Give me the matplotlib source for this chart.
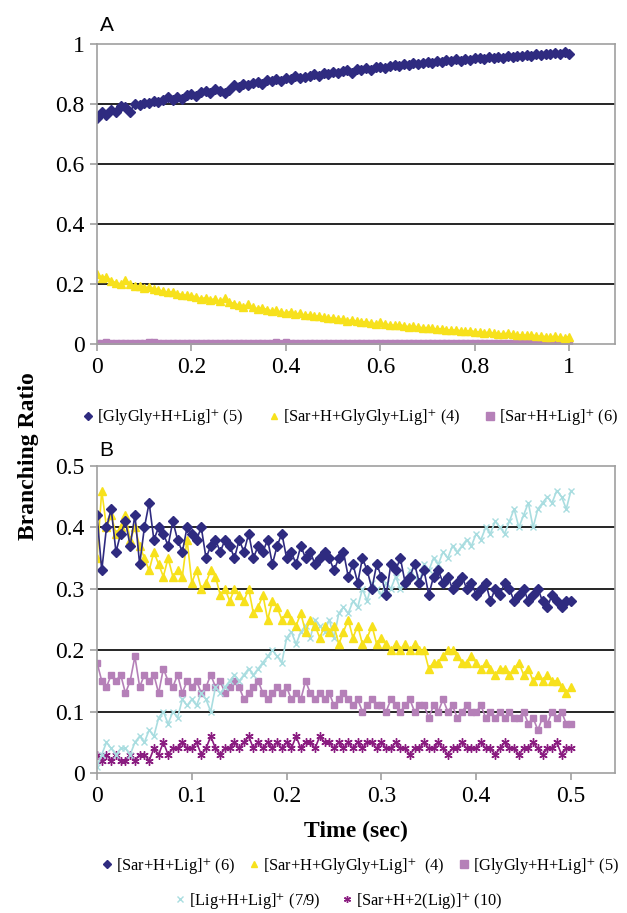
import numpy as np
from matplotlib import pyplot as plt
from matplotlib.lines import Line2D

plt.rcParams['font.family'] = ['Liberation Serif', 'DejaVu Serif']
plt.rcParams['mathtext.fontset'] = 'stix'

# ---- panel A data (time step 0.01 s) ----
time_a = np.arange(101) * 0.01
a_glygly = [
    0.755, 0.775, 0.765, 0.780, 0.772, 0.795, 0.790, 0.775, 0.800, 0.798,
    0.805, 0.803, 0.810, 0.806, 0.815, 0.822, 0.812, 0.825, 0.818, 0.830,
    0.835, 0.828, 0.840, 0.845, 0.836, 0.850, 0.842, 0.838, 0.848, 0.862,
    0.858, 0.866, 0.862, 0.870, 0.875, 0.868, 0.880, 0.876, 0.882, 0.878,
    0.888, 0.885, 0.892, 0.887, 0.890, 0.895, 0.900, 0.893, 0.905, 0.900,
    0.908, 0.902, 0.910, 0.913, 0.905, 0.917, 0.912, 0.920, 0.915, 0.922,
    0.925, 0.920, 0.928, 0.931, 0.926, 0.934, 0.930, 0.936, 0.933, 0.938,
    0.941, 0.937, 0.943, 0.940, 0.946, 0.944, 0.949, 0.945, 0.950, 0.948,
    0.952, 0.955, 0.951, 0.956, 0.954, 0.958, 0.955, 0.960, 0.957, 0.961,
    0.959, 0.963, 0.960, 0.966, 0.964, 0.968, 0.966, 0.970, 0.968, 0.972,
    0.968]
a_sar_glygly = [
    0.235, 0.220, 0.225, 0.210, 0.205, 0.200, 0.215, 0.200, 0.195, 0.192,
    0.188, 0.190, 0.185, 0.180, 0.176, 0.172, 0.175, 0.168, 0.165, 0.162,
    0.160, 0.158, 0.150, 0.155, 0.148, 0.150, 0.142, 0.152, 0.140, 0.135,
    0.130, 0.125, 0.132, 0.122, 0.118, 0.120, 0.115, 0.110, 0.112, 0.106,
    0.104, 0.108, 0.100, 0.102, 0.096, 0.098, 0.092, 0.094, 0.090, 0.086,
    0.088, 0.084, 0.082, 0.078, 0.080, 0.076, 0.073, 0.075, 0.070, 0.068,
    0.072, 0.066, 0.064, 0.062, 0.065, 0.060, 0.058, 0.060, 0.056, 0.054,
    0.055, 0.052, 0.050, 0.051, 0.048, 0.046, 0.047, 0.044, 0.043, 0.045,
    0.041, 0.040, 0.038, 0.039, 0.036, 0.035, 0.034, 0.036, 0.032, 0.031,
    0.030, 0.029, 0.031, 0.027, 0.026, 0.025, 0.024, 0.026, 0.022, 0.021,
    0.025]
a_sar = [
    0.004, 0.002, 0.006, 0.003, 0.005, 0.002, 0.004, 0.003, 0.005, 0.002,
    0.004, 0.006, 0.008, 0.003, 0.004, 0.002, 0.005, 0.003, 0.004, 0.002,
    0.003, 0.005, 0.002, 0.004, 0.003, 0.005, 0.002, 0.004, 0.003, 0.002,
    0.004, 0.003, 0.005, 0.002, 0.004, 0.003, 0.002, 0.004, 0.006, 0.003,
    0.007, 0.003, 0.004, 0.002, 0.005, 0.003, 0.004, 0.002, 0.003, 0.005,
    0.002, 0.004, 0.003, 0.002, 0.004, 0.003, 0.005, 0.002, 0.004, 0.003,
    0.002, 0.004, 0.003, 0.005, 0.002, 0.003, 0.004, 0.002, 0.003, 0.004,
    0.002, 0.003, 0.005, 0.002, 0.003, 0.004, 0.002, 0.003, 0.002, 0.004,
    0.003, 0.002, 0.003, 0.004, 0.002, 0.003, 0.002, 0.004, 0.003, 0.002,
    0.003, 0.002, 0.004, 0.003, 0.002, 0.003, 0.002, 0.003, 0.002, 0.003,
    0.002]

# ---- panel B data (time step 0.005 s) ----
time_b = np.arange(101) * 0.005
b_sar = [
    0.42, 0.33, 0.40, 0.43, 0.36, 0.39, 0.41, 0.37, 0.42, 0.34,
    0.40, 0.44, 0.38, 0.40, 0.39, 0.37, 0.41, 0.38, 0.36, 0.40,
    0.39, 0.38, 0.40, 0.35, 0.37, 0.38, 0.36, 0.38, 0.37, 0.35,
    0.38, 0.36, 0.39, 0.35, 0.37, 0.36, 0.38, 0.34, 0.37, 0.39,
    0.35, 0.36, 0.34, 0.37, 0.35, 0.36, 0.34, 0.35, 0.36, 0.35,
    0.33, 0.35, 0.36, 0.32, 0.34, 0.31, 0.35, 0.33, 0.30, 0.34,
    0.32, 0.29, 0.34, 0.33, 0.35, 0.31, 0.32, 0.34, 0.31, 0.33,
    0.29, 0.32, 0.33, 0.31, 0.32, 0.30, 0.31, 0.32, 0.30, 0.31,
    0.29, 0.30, 0.31, 0.28, 0.30, 0.29, 0.31, 0.30, 0.28, 0.29,
    0.30, 0.28, 0.29, 0.30, 0.28, 0.27, 0.29, 0.28, 0.27, 0.28,
    0.28]
b_sar_glygly = [
    0.35, 0.46, 0.40, 0.42, 0.39, 0.40, 0.42, 0.38, 0.40, 0.37,
    0.35, 0.33, 0.36, 0.34, 0.32, 0.35, 0.32, 0.33, 0.32, 0.38,
    0.31, 0.33, 0.30, 0.31, 0.33, 0.32, 0.29, 0.30, 0.28, 0.30,
    0.29, 0.28, 0.30, 0.26, 0.27, 0.29, 0.25, 0.28, 0.27, 0.25,
    0.26, 0.25, 0.24, 0.26, 0.23, 0.25, 0.24, 0.22, 0.24, 0.23,
    0.24, 0.21, 0.23, 0.25, 0.22, 0.24, 0.21, 0.22, 0.24, 0.21,
    0.22, 0.21, 0.20, 0.21, 0.20, 0.21, 0.20, 0.21, 0.20, 0.20,
    0.17, 0.18, 0.18, 0.19, 0.20, 0.20, 0.19, 0.18, 0.18, 0.19,
    0.18, 0.17, 0.18, 0.17, 0.16, 0.17, 0.17, 0.16, 0.17, 0.18,
    0.16, 0.17, 0.15, 0.16, 0.15, 0.16, 0.15, 0.15, 0.14, 0.13,
    0.14]
b_glygly = [
    0.18, 0.15, 0.14, 0.16, 0.15, 0.16, 0.13, 0.15, 0.19, 0.14,
    0.16, 0.15, 0.16, 0.13, 0.17, 0.15, 0.14, 0.16, 0.13, 0.15,
    0.14, 0.15, 0.13, 0.14, 0.16, 0.14, 0.15, 0.13, 0.14, 0.15,
    0.14, 0.12, 0.13, 0.14, 0.15, 0.13, 0.12, 0.13, 0.14, 0.13,
    0.14, 0.12, 0.13, 0.12, 0.15, 0.13, 0.12, 0.13, 0.12, 0.13,
    0.11, 0.12, 0.13, 0.12, 0.11, 0.12, 0.10, 0.11, 0.12, 0.11,
    0.11, 0.10, 0.12, 0.11, 0.10, 0.11, 0.12, 0.10, 0.11, 0.11,
    0.09, 0.11, 0.10, 0.12, 0.10, 0.11, 0.09, 0.10, 0.11, 0.10,
    0.10, 0.11, 0.09, 0.10, 0.09, 0.10, 0.09, 0.10, 0.09, 0.09,
    0.10, 0.08, 0.09, 0.07, 0.09, 0.08, 0.10, 0.09, 0.10, 0.08,
    0.08]
b_lig = [
    0.01, 0.03, 0.05, 0.04, 0.03, 0.04, 0.04, 0.03, 0.05, 0.06,
    0.05, 0.07, 0.06, 0.09, 0.10, 0.08, 0.10, 0.09, 0.12, 0.11,
    0.12, 0.11, 0.13, 0.12, 0.10, 0.14, 0.13, 0.14, 0.15, 0.16,
    0.15, 0.16, 0.17, 0.16, 0.17, 0.18, 0.19, 0.20, 0.19, 0.18,
    0.22, 0.23, 0.21, 0.23, 0.24, 0.22, 0.25, 0.24, 0.23, 0.25,
    0.22, 0.26, 0.27, 0.26, 0.28, 0.27, 0.30, 0.28, 0.31, 0.30,
    0.29, 0.31, 0.30, 0.32, 0.30, 0.31, 0.33, 0.32, 0.31, 0.34,
    0.33, 0.35, 0.34, 0.36, 0.35, 0.37, 0.36, 0.37, 0.38, 0.37,
    0.39, 0.38, 0.40, 0.39, 0.41, 0.40, 0.39, 0.41, 0.43, 0.40,
    0.42, 0.44, 0.40, 0.43, 0.44, 0.45, 0.44, 0.46, 0.45, 0.43,
    0.46]
b_sar_2lig = [
    0.03, 0.02, 0.03, 0.02, 0.03, 0.02, 0.02, 0.03, 0.02, 0.03,
    0.03, 0.02, 0.04, 0.03, 0.05, 0.03, 0.04, 0.04, 0.05, 0.04,
    0.04, 0.05, 0.03, 0.04, 0.06, 0.04, 0.03, 0.04, 0.04, 0.05,
    0.04, 0.05, 0.06, 0.04, 0.05, 0.04, 0.05, 0.04, 0.05, 0.04,
    0.05, 0.04, 0.06, 0.04, 0.05, 0.05, 0.04, 0.06, 0.05, 0.05,
    0.04, 0.05, 0.04, 0.05, 0.04, 0.05, 0.04, 0.05, 0.05, 0.04,
    0.05, 0.04, 0.04, 0.05, 0.04, 0.04, 0.03, 0.04, 0.04, 0.05,
    0.04, 0.04, 0.05, 0.04, 0.03, 0.04, 0.04, 0.05, 0.04, 0.04,
    0.04, 0.05, 0.04, 0.04, 0.03, 0.04, 0.05, 0.04, 0.04, 0.03,
    0.04, 0.04, 0.05, 0.04, 0.03, 0.04, 0.04, 0.05, 0.03, 0.04,
    0.04]

NAVY = '#2f2b80'
YELLOW = '#f7e11c'
PINK = '#b580b8'
CYAN = '#a9dde0'
PURPLE = '#8a1c80'
GRAY = '#a0a0a0'


def style_axes(ax, xticks, yticks, xlim, ylim):
    ax.set_xlim(xlim)
    ax.set_ylim(ylim)
    ax.set_xticks(xticks)
    ax.set_yticks(yticks)
    ax.set_xticklabels(['{:g}'.format(t) for t in xticks])
    ax.set_yticklabels(['{:g}'.format(t) for t in yticks])
    for y in yticks[1:-1]:
        ax.axhline(y, color='black', lw=1.2, zorder=1)
    for s in ax.spines.values():
        s.set_color(GRAY)
        s.set_linewidth(1.2)
        s.set_zorder(5)
    ax.tick_params(direction='out', length=5, width=1.2, color=GRAY,
                   labelsize=17, pad=4)


def series(ax, x, y, color, marker, ms):
    ax.plot(x, y, color=color, lw=1.2, marker=marker, ms=ms,
            mec=color, mfc=color, zorder=3)


def handle(color, marker, ms):
    return Line2D([], [], ls='none', marker=marker, color=color, ms=ms)


fig = plt.figure(figsize=(6.27, 9.13), dpi=100)

# ---- panel A ----
ax1 = fig.add_axes([0.1547, 0.6232, 0.8263, 0.3286])
series(ax1, time_a, a_sar, PINK, 's', 5)
series(ax1, time_a, a_sar_glygly, YELLOW, '^', 6)
series(ax1, time_a, a_glygly, NAVY, 'D', 5)
style_axes(ax1, [0, 0.2, 0.4, 0.6, 0.8, 1], [0, 0.2, 0.4, 0.6, 0.8, 1],
           (0, 1.097), (0, 1))
ax1.text(0.005, 1.063, 'A', transform=ax1.transAxes, fontsize=15,
         family='Liberation Sans', va='center')

leg_a = [handle(NAVY, 'D', 4), handle(YELLOW, '^', 5), handle(PINK, 's', 6)]
lab_a = ['[GlyGly+H+Lig]$^{+}$ (5)', '[Sar+H+GlyGly+Lig]$^{+}$ (4)',
         '[Sar+H+Lig]$^{+}$ (6)']
fig.legend(leg_a, lab_a, loc='center', bbox_to_anchor=(0.56, 0.543),
           ncol=3, frameon=False, fontsize=11.8, handlelength=0.5,
           handletextpad=0.3, columnspacing=1.6)

# ---- panel B ----
ax2 = fig.add_axes([0.1547, 0.1533, 0.8263, 0.3363])
series(ax2, time_b, b_sar_2lig, PURPLE, (6, 2, 0), 6)
series(ax2, time_b, b_glygly, PINK, 's', 5)
series(ax2, time_b, b_lig, CYAN, 'x', 5)
series(ax2, time_b, b_sar_glygly, YELLOW, '^', 6)
series(ax2, time_b, b_sar, NAVY, 'D', 5)
style_axes(ax2, [0, 0.1, 0.2, 0.3, 0.4, 0.5], [0, 0.1, 0.2, 0.3, 0.4, 0.5],
           (0, 0.5465), (0, 0.5))
ax2.text(0.005, 1.052, 'B', transform=ax2.transAxes, fontsize=15,
         family='Liberation Sans', va='center')
ax2.set_xlabel('Time (sec)', fontsize=17, fontweight='bold', labelpad=10)

fig.text(0.045, 0.5, 'Branching Ratio', rotation=90, fontsize=17,
         fontweight='bold', ha='center', va='center')

leg_b1 = [handle(NAVY, 'D', 4), handle(YELLOW, '^', 5), handle(PINK, 's', 6)]
lab_b1 = ['[Sar+H+Lig]$^{+}$ (6)', '[Sar+H+GlyGly+Lig]$^{+}$  (4)',
          '[GlyGly+H+Lig]$^{+}$ (5)']
fig.legend(leg_b1, lab_b1, loc='center', bbox_to_anchor=(0.576, 0.0515),
           ncol=3, frameon=False, fontsize=11.8, handlelength=0.5,
           handletextpad=0.3, columnspacing=0.9)
leg_b2 = [handle(CYAN, 'x', 4), handle(PURPLE, (6, 2, 0), 5)]
lab_b2 = ['[Lig+H+Lig]$^{+}$ (7/9)', '[Sar+H+2(Lig)]$^{+}$ (10)']
fig.legend(leg_b2, lab_b2, loc='center', bbox_to_anchor=(0.541, 0.013),
           ncol=2, frameon=False, fontsize=11.8, handlelength=0.5,
           handletextpad=0.3, columnspacing=1.4)

fig.savefig('out.png', dpi=100)
